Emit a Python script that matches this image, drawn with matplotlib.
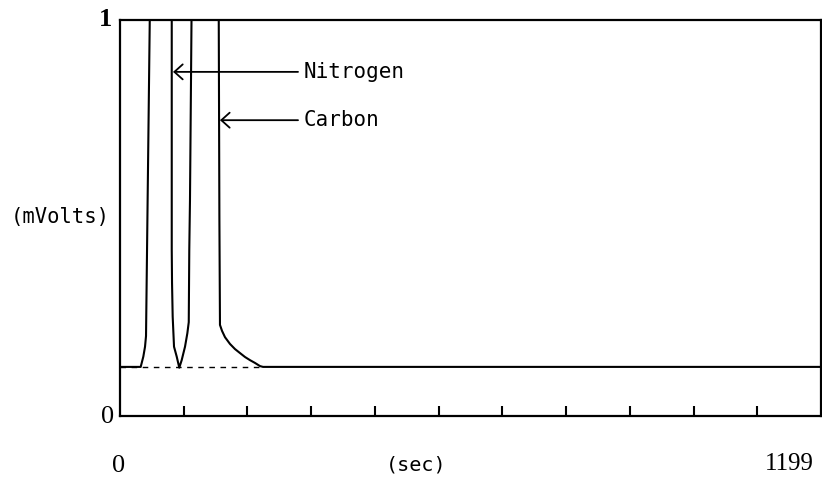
import numpy as np
import matplotlib
matplotlib.use("Agg")
import matplotlib.pyplot as plt

# ---- data ----
time_s = [0, 33, 35.4, 39.9, 42.8, 44.5, 51.3,
          88.5, 88.5, 89.0, 90.1, 92.4, 97.0, 101.4,
          105.5, 111.2, 115.2, 117.6, 118.5, 119.7, 122.6,
          168.8, 170.0, 171.0, 174.5, 179.6, 188.1, 196.7, 205.2, 213.8,
          222.4, 230.9, 239.5, 244.6, 1199]
signal_mv = [0.124, 0.124, 0.124, 0.150, 0.175, 0.202, 1.05,
             1.05, 0.420, 0.336, 0.251, 0.175, 0.150, 0.122,
             0.141, 0.175, 0.209, 0.237, 0.420, 0.545, 1.05,
             1.05, 0.500, 0.230, 0.215, 0.199, 0.182, 0.169, 0.159, 0.149,
             0.141, 0.134, 0.126, 0.124, 0.124]
baseline_t = [0, 244.6]
baseline_v = [0.124, 0.124]

x_range = [0, 1199]
y_range = [0, 1]
n_intervals = 11
x_labels = ["0", "1199"]
y_labels = ["0", "1"]
x_title = "(sec)"
y_title = "(mVolts)"
peaks = ["Nitrogen", "Carbon"]
peak_tip_t = [90.7, 171]
peak_tip_v = [0.869, 0.747]
label_t = [314, 314]

fig = plt.figure(figsize=(8.22, 4.84), dpi=100)
ax = fig.add_axes([120 / 822, 68 / 484, 701 / 822, 396 / 484])

ax.plot(time_s, signal_mv, color="black", lw=1.5, solid_joinstyle="round")
ax.plot(baseline_t, baseline_v, color="black", lw=1.0, ls=(0, (4, 4)))

ax.set_xlim(*x_range)
ax.set_ylim(*y_range)

for s in ax.spines.values():
    s.set_linewidth(1.6)
    s.set_color("black")

ticks = np.linspace(x_range[0], x_range[1], n_intervals + 1)[1:-1]
ax.set_xticks(ticks)
ax.set_xticklabels([])
ax.tick_params(axis="x", direction="in", length=7.5, width=1.5, color="black")
ax.set_yticks([])

serif = "Liberation Serif"
mono = "DejaVu Sans Mono"

# y labels
fig.text(108 / 822, 1 - 417 / 484, y_labels[0], ha="center", va="center",
         fontsize=19, family=serif)
fig.text(105 / 822, 1 - 19 / 484, y_labels[1], ha="center", va="center",
         fontsize=19, family=serif, weight="bold")
fig.text(60 / 822, 1 - 217 / 484, y_title, ha="center", va="center",
         fontsize=14.8, family=mono)

# x labels
fig.text(119 / 822, 1 - 466 / 484, x_labels[0], ha="center", va="center",
         fontsize=19, family=serif)
fig.text(789 / 822, 1 - 464 / 484, x_labels[1], ha="center", va="center",
         fontsize=18, family=serif)
fig.text(416 / 822, 1 - 465 / 484, x_title, ha="center", va="center",
         fontsize=14.5, family=mono)

for name, tt, tv, lt in zip(peaks, peak_tip_t, peak_tip_v, label_t):
    ax.annotate(name, xy=(tt, tv), xytext=(lt, tv), ha="left", va="center",
                fontsize=15, family=mono,
                arrowprops=dict(arrowstyle="->,head_length=0.4,head_width=0.36",
                                lw=1.3, color="black", shrinkA=2, shrinkB=0))

fig.savefig("out.png", dpi=100)
